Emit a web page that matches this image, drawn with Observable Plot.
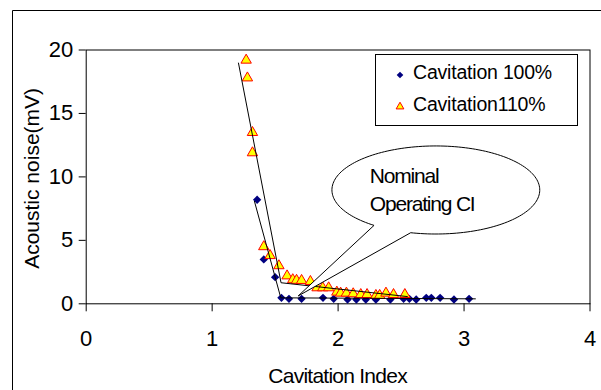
<!DOCTYPE html>
<html><head><meta charset="utf-8">
<script src="https://cdn.jsdelivr.net/npm/d3@7"></script>
<script src="https://cdn.jsdelivr.net/npm/@observablehq/plot@0.6"></script>
<style>body{margin:0;background:#fff} #chart{width:601px;height:390px}</style>
</head><body><div id="chart"></div>
<script>
// ---- data ----
const seriesNames = ["Cavitation 100%", "Cavitation110%"];
const cav100X = [1.357, 1.41, 1.50, 1.55, 1.61, 1.71, 1.88, 1.965, 2.075, 2.145, 2.22, 2.30, 2.415, 2.52, 2.566, 2.62, 2.70, 2.74, 2.81, 2.92, 3.04];
const cav100Y = [8.2, 3.5, 2.1, 0.47, 0.39, 0.39, 0.47, 0.39, 0.34, 0.34, 0.34, 0.34, 0.34, 0.39, 0.39, 0.34, 0.47, 0.47, 0.47, 0.34, 0.39];
const cav110X = [1.27, 1.28, 1.32, 1.32, 1.41, 1.46, 1.53, 1.595, 1.64, 1.67, 1.71, 1.78, 1.833, 1.878, 1.925, 1.99, 2.02, 2.066, 2.12, 2.18, 2.23, 2.30, 2.33, 2.38, 2.44, 2.53];
const cav110Y = [19.2, 17.8, 13.5, 11.9, 4.5, 3.8, 3.0, 2.2, 1.9, 1.85, 1.84, 1.76, 1.26, 1.26, 1.26, 0.92, 0.84, 0.84, 0.79, 0.73, 0.73, 0.66, 0.66, 0.84, 0.73, 0.73];
const fit100X = [1.336, 1.545, 3.09];
const fit100Y = [8.07, 0.47, 0.39];
const fit110X = [1.209, 1.547, 2.55];
const fit110Y = [18.97, 1.66, 0.57];
const xTicks = [0, 1, 2, 3, 4];
const yTicks = [0, 5, 10, 15, 20];
const xLabel = "Cavitation Index";
const yLabel = "Acoustic noise(mV)";
const calloutLines = ["Nominal", "Operating CI"];
const calloutCenter = [2.78, 8.93];   // data units
const calloutRadii = [0.825, 3.47];   // data units
const calloutTip = [1.687, 0.58];     // data units
const calloutGap = [126.5, 104];      // wedge angles (deg, screen)

const toRows = (xs, ys) => xs.map((x, i) => ({x, y: ys[i]}));
const d100 = toRows(cav100X, cav100Y);
const d110 = toRows(cav110X, cav110Y);
const f100 = toRows(fit100X, fit100Y);
const f110 = toRows(fit110X, fit110Y);

const squareDiamond = {draw(ctx, size) {
  const s = Math.sqrt(size / 2);
  ctx.moveTo(0, -s); ctx.lineTo(s, 0); ctx.lineTo(0, s); ctx.lineTo(-s, 0); ctx.closePath();
}};

const font = "'Liberation Sans', Arial, sans-serif";

const plot = Plot.plot({
  width: 601, height: 390,
  marginLeft: 85.7, marginRight: 11.5, marginTop: 49.5, marginBottom: 86.7,
  style: {fontFamily: font, fontSize: "22px", background: "transparent", color: "#000"},
  x: {domain: [0, 4]},
  y: {domain: [0, 20]},
  marks: [
    Plot.frame({stroke: "#000", strokeWidth: 1}),
    Plot.axisX({ticks: xTicks, tickSize: 8, tickPadding: 19, label: null, fontSize: 22, tickFormat: d => d}),
    Plot.axisY({ticks: yTicks, tickSize: 7, tickPadding: 6, label: null, fontSize: 22, tickFormat: d => d}),
    Plot.dot(d100, {x: "x", y: "y", symbol: squareDiamond, r: 3.35, fill: "#000080"}),
    Plot.dot(d110, {x: "x", y: "y", symbol: "triangle", r: 3.86, fill: "#ffff00", stroke: "#ff0000", strokeWidth: 1}),
    Plot.line(f100, {x: "x", y: "y", stroke: "#000", strokeWidth: 1}),
    Plot.line(f110, {x: "x", y: "y", stroke: "#000", strokeWidth: 1})
  ]
});

document.getElementById("chart").appendChild(plot);
const svg = d3.select(plot);
const xs = plot.scale("x"), ys = plot.scale("y");
const sx = d3.scaleLinear().domain(xs.domain).range(xs.range);
const sy = d3.scaleLinear().domain(ys.domain).range(ys.range);

// outer chart-area border
svg.append("path").attr("d", "M12.5,390V10.5H601").attr("fill", "none").attr("stroke", "#000").attr("stroke-width", 1);

// axis titles
svg.append("text").attr("x", (sx(0) + sx(4)) / 2).attr("y", 383).attr("text-anchor", "middle")
  .attr("font-size", 21).attr("letter-spacing", "-0.75px").text(xLabel);
svg.append("text").attr("transform", `translate(38.5,${(sy(0) + sy(20)) / 2 + 2}) rotate(-90)`)
  .attr("text-anchor", "middle").attr("font-size", 21).text(yLabel);

// callout
const [ccx, ccy] = calloutCenter, [crx, cry] = calloutRadii;
const pts = [];
for (let a = calloutGap[0]; a <= calloutGap[1] + 360; a += 2) {
  const t = a * Math.PI / 180;
  pts.push([sx(ccx + crx * Math.cos(t)), sy(ccy - cry * Math.sin(t))]);
}
{
  const t = (calloutGap[1] + 360) * Math.PI / 180;
  pts.push([sx(ccx + crx * Math.cos(t)), sy(ccy - cry * Math.sin(t))]);
}
pts.push([sx(calloutTip[0]), sy(calloutTip[1])]);
svg.append("path").attr("d", d3.line()(pts) + "Z").attr("fill", "#fff").attr("stroke", "#000").attr("stroke-width", 1);
const tx = sx(ccx) - 66, ty = sy(ccy);
calloutLines.forEach((s, i) => {
  svg.append("text").attr("x", tx).attr("y", ty - 7 + i * 28.5).attr("font-size", 21)
    .attr("text-anchor", "start").attr("letter-spacing", "-1.2px").text(s);
});

// legend
const lg = svg.append("g");
lg.append("rect").attr("x", 375.5).attr("y", 54.5).attr("width", 202).attr("height", 71)
  .attr("fill", "#fff").attr("stroke", "#000").attr("stroke-width", 1);
const legendItems = [
  {name: seriesNames[0], sym: d3.symbol(squareDiamond, 22)(), fill: "#000080", stroke: "none"},
  {name: seriesNames[1], sym: d3.symbol(d3.symbolTriangle, 26)(), fill: "#ffff00", stroke: "#ff0000"}
];
legendItems.forEach((it, i) => {
  const yy = 75 + i * 31.7;
  lg.append("path").attr("d", it.sym).attr("transform", `translate(400,${yy})`)
    .attr("fill", it.fill).attr("stroke", it.stroke).attr("stroke-width", 1);
  lg.append("text").attr("x", 413).attr("y", yy + 4).attr("font-size", 19.5)
    .attr("text-anchor", "start").attr("letter-spacing", "-0.2px").text(it.name);
});
</script>
</body></html>
